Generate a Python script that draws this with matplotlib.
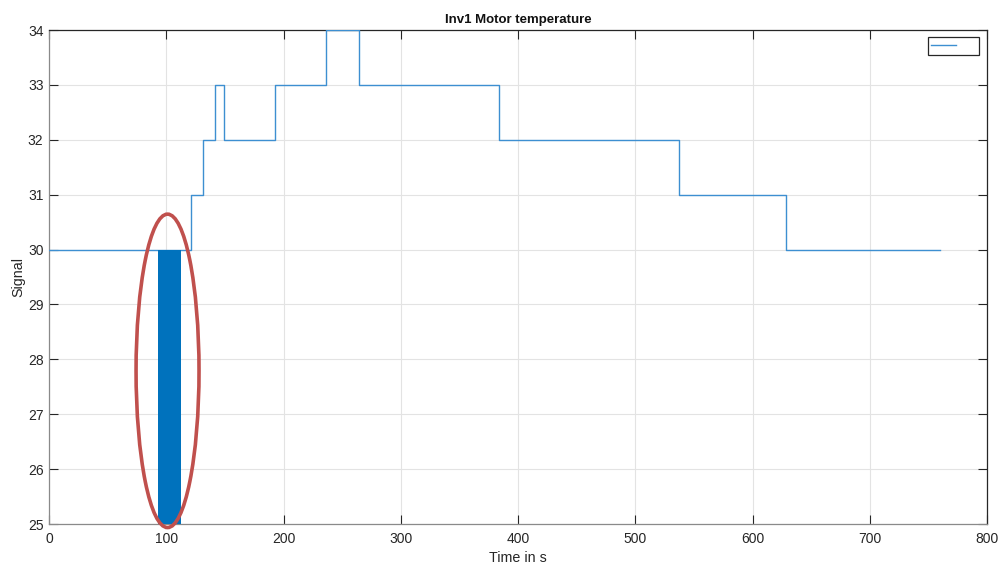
import matplotlib
matplotlib.use("Agg")
import matplotlib.pyplot as plt
from matplotlib.patches import Ellipse, Rectangle
from matplotlib.lines import Line2D

plt.rcParams['font.family'] = ['Liberation Sans', 'DejaVu Sans']

# Step signal: value holds from each time until the next one
step_times = [0, 120.8, 131.1, 141.9, 149.5, 193.0, 236.3, 264.7, 383.8, 537.3, 628.6, 760.0]
step_values = [30, 31, 32, 33, 32, 33, 34, 33, 32, 31, 30, 30]

# Dense block of samples near t = 100 s
block_start, block_end = 92.6, 112.8
block_low, block_high = 25.0, 30.0

# Highlight ellipse (centre, width, height in data units)
ell_center = (101.1, 27.79)
ell_width, ell_height = 53.7, 5.71

x_ticks = [0, 100, 200, 300, 400, 500, 600, 700, 800]
y_ticks = [25, 26, 27, 28, 29, 30, 31, 32, 33, 34]

fig = plt.figure(figsize=(9.98, 5.65), dpi=100)
ax = fig.add_axes([49 / 998, 1 - 524 / 565, 938 / 998, 494 / 565])

line_color = '#3d8fd1'
ax.step(step_times, step_values, where='post', color=line_color, lw=1.0, zorder=3)
ax.fill_between([block_start, block_end], [block_low, block_low], [block_high, block_high],
                color='#0072BD', lw=0, zorder=3)

ax.add_patch(Ellipse(ell_center, ell_width, ell_height, fill=False,
                     edgecolor='#C0504D', lw=2.6, zorder=4, clip_on=False))

ax.set_xlim(0, 800)
ax.set_ylim(25, 34)
ax.set_xticks(x_ticks)
ax.set_yticks(y_ticks)
ax.grid(True, color='#e3e3e3', lw=0.8, zorder=0)
ax.set_axisbelow(True)

ax.tick_params(direction='in', length=6.8, width=0.8, top=True, right=True,
               labelsize=10, colors='#262626')
ax.tick_params(axis='x', pad=6)
ax.tick_params(axis='y', pad=4)
for side in ['top', 'right']:
    ax.spines[side].set_color('#262626')
    ax.spines[side].set_linewidth(0.9)
for side in ['left', 'bottom']:
    ax.spines[side].set_color('#8a8a8a')
    ax.spines[side].set_linewidth(0.9)

ax.set_title('Inv1 Motor temperature', fontsize=9.5, fontweight='bold', color='#111111', pad=5)
ax.set_xlabel('Time in s', fontsize=10.3, color='#262626', labelpad=3)
ax.set_ylabel('Signal', fontsize=10.3, color='#262626', labelpad=1.5)

# Legend box with an empty entry
ax.add_patch(Rectangle((0.937, 0.949), 0.0545, 0.037, transform=ax.transAxes,
                       facecolor='white', edgecolor='#262626', lw=0.9, zorder=5))
ax.add_line(Line2D([0.940, 0.967], [0.970, 0.970], transform=ax.transAxes,
                   color=line_color, lw=1.0, zorder=6))

fig.savefig('out.png', dpi=100)
